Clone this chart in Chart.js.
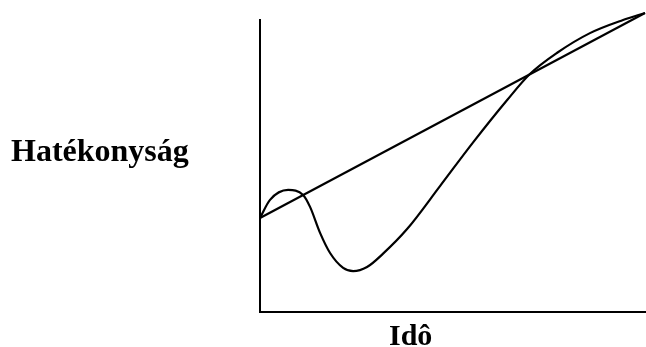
<!DOCTYPE html>
<html>
<head>
<meta charset="utf-8">
<script src="https://cdn.jsdelivr.net/npm/chart.js@4/dist/chart.umd.min.js"></script>
<style>
  html, body { margin: 0; padding: 0; background: #fff; }
  #wrap { position: relative; width: 646px; height: 347px; }
  .lbl { position: absolute; font-family: "Liberation Serif", "Times New Roman", serif; font-weight: bold; font-size: 30px; line-height: 30px; color: #000; white-space: nowrap; }
</style>
</head>
<body>
<div id="wrap">
  <canvas id="myChart" width="646" height="347"></canvas>
  <div class="lbl" style="left:11px; top:135px; font-size:32px;">Hatékonyság</div>
  <div class="lbl" style="left:389px; top:320px;">Idô</div>
</div>
<script>
// idő (0-100) es hatekonysag (0-100), leolvasva a kepről
var idoEgyenes = [0, 100];
var hatEgyenes = [32.2, 102.4];

var idoGorbe = [0, 2.6, 7.3, 11.2, 13.0, 15.6, 18.2, 21.6, 24.2, 27.8, 31.9, 38.2, 46.8, 55.3, 64.2, 70.1, 77.1, 85.7, 94.3, 100];
var hatGorbe = [32.2, 38.4, 41.8, 40.1, 36.0, 27.1, 20.2, 15.1, 14.0, 15.4, 19.9, 28.4, 43.2, 58.0, 72.6, 81.5, 88.7, 95.5, 100, 102.4];

function toPoints(xs, ys) {
  return xs.map((x, i) => ({ x: x, y: ys[i] }));
}

const ctx = document.getElementById("myChart").getContext("2d");

new Chart(ctx, {
  type: "line",
  data: {
    datasets: [
      {
        data: toPoints(idoEgyenes, hatEgyenes),
        borderColor: "#000",
        borderWidth: 2.2,
        pointRadius: 0,
        tension: 0,
        clip: false,
      },
      {
        data: toPoints(idoGorbe, hatGorbe),
        borderColor: "#000",
        borderWidth: 2.2,
        pointRadius: 0,
        cubicInterpolationMode: "monotone",
        clip: false,
      },
    ],
  },
  options: {
    responsive: false,
    animation: false,
    layout: { padding: { left: 260, top: 20, right: 1, bottom: 35 } },
    plugins: { legend: { display: false }, tooltip: { enabled: false } },
    scales: {
      x: {
        type: "linear",
        min: 0,
        max: 100,
        ticks: { display: false },
        grid: { display: false, drawTicks: false },
        border: { display: true, color: "#000", width: 2 },
        afterFit: (s) => { s.height = 0; },
      },
      y: {
        min: 0,
        max: 100,
        ticks: { display: false },
        grid: { display: false, drawTicks: false },
        border: { display: true, color: "#000", width: 2 },
        afterFit: (s) => { s.width = 0; },
      },
    },
  },
});
</script>
</body>
</html>
